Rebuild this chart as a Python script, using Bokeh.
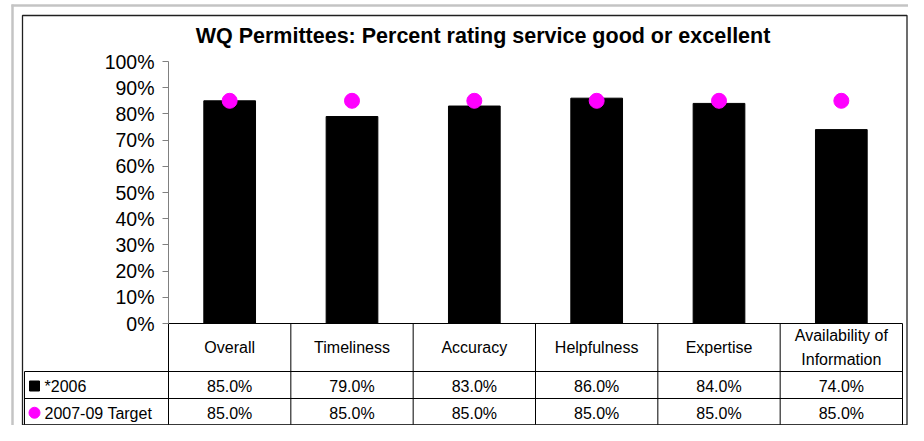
from bokeh.plotting import figure
from bokeh.models import Range1d, LinearAxis, FixedTicker
from bokeh.core.properties import value
from bokeh.embed import file_html
from bokeh.resources import INLINE

# ---------------- data ----------------
title_text = "WQ Permittees:  Percent rating service good or excellent"
categories = ["Overall", "Timeliness", "Accuracy", "Helpfulness", "Expertise",
              "Availability of\nInformation"]
series_names = ["*2006", "2007-09 Target"]
values_2006 = [85.0, 79.0, 83.0, 86.0, 84.0, 74.0]
values_target = [85.0, 85.0, 85.0, 85.0, 85.0, 85.0]
y_ticks = [0, 10, 20, 30, 40, 50, 60, 70, 80, 90, 100]
y_tick_labels = ["0%", "10%", "20%", "30%", "40%", "50%", "60%", "70%", "80%", "90%", "100%"]

# ---------------- layout (pixels) ----------------
W, H = 908, 425
X0 = 168.0            # left edge of first category
CW = 734.0 / 6        # category width
Y0 = 323.0            # 0% position
PY = 2.62             # px per percent
FONT = "Liberation Sans"


def dx(px):
    return (px - X0) / CW


def dy(py):
    return (Y0 - py) / PY


n = len(categories)
centers = [i + 0.5 for i in range(n)]

p = figure(width=W, height=H, output_backend="svg", toolbar_location=None, tools="",
           x_range=Range1d(dx(0), dx(W)), y_range=Range1d(dy(H), dy(0)),
           x_axis_type=None, y_axis_type=None,
           min_border_left=0, min_border_right=0, min_border_top=0, min_border_bottom=0)
p.outline_line_color = None
p.background_fill_color = "white"
p.border_fill_color = "white"

# outer gray frame
p.segment(x0=[dx(12)], y0=[dy(4)], x1=[dx(12)], y1=[dy(H)], line_color="#c4c4c4", line_width=2.5)
p.segment(x0=[dx(11)], y0=[dy(5)], x1=[dx(W)], y1=[dy(5)], line_color="#c4c4c4", line_width=2.5)

# bars
p.vbar(x=centers, top=values_2006, bottom=0, width=0.4226,
       fill_color="black", line_color="black", line_width=1)

# y axis
yaxis = LinearAxis(fixed_location=0, bounds=(0, 100), ticker=FixedTicker(ticks=y_ticks),
                   major_label_overrides={t: l for t, l in zip(y_ticks, y_tick_labels)})
yaxis.axis_line_color = "#808080"
yaxis.major_tick_line_color = "#808080"
yaxis.major_tick_out = 6
yaxis.major_tick_in = 0
yaxis.minor_tick_line_color = None
yaxis.major_label_text_font = FONT
yaxis.major_label_text_font_size = "19.5px"
yaxis.major_label_text_color = "black"
yaxis.major_label_standoff = 8
p.add_layout(yaxis, "left")

# data table grid
row_h = [371.0, 398.0, 424.5]
bottom = dy(row_h[-1])
p.segment(x0=list(range(n + 1)), y0=[0] * (n + 1), x1=list(range(n + 1)), y1=[bottom] * (n + 1),
          line_color="black", line_width=1)
p.segment(x0=[0], y0=[0], x1=[n], y1=[0], line_color="black", line_width=1)
p.segment(x0=[dx(24)] * 3, y0=[dy(v) for v in row_h], x1=[n] * 3, y1=[dy(v) for v in row_h],
          line_color="black", line_width=1)
p.segment(x0=[dx(24)], y0=[dy(row_h[0])], x1=[dx(24)], y1=[bottom], line_color="black", line_width=1)

# black chart border
p.quad(left=[dx(22)], right=[dx(906.5)], top=[dy(15)], bottom=[dy(424.5)],
       fill_color=None, line_color="#202020", line_width=1.3)

# target dots
p.scatter(x=centers, y=values_target, size=15, marker="circle",
          fill_color="#FF00FF", line_color="#FF00FF")

# header labels
p.text(x=centers, y=[dy(347)] * n, text=categories, text_align="center", text_baseline="middle",
       text_font=value(FONT), text_font_size="16px", text_line_height=1.4, text_color="black")

# table rows
r1 = (row_h[0] + row_h[1]) / 2 + 1.5
r2 = (row_h[1] + row_h[2]) / 2 + 1.5
p.text(x=centers, y=[dy(r1)] * n, text=[f"{v:.1f}%" for v in values_2006],
       text_align="center", text_baseline="middle",
       text_font=value(FONT), text_font_size="16px", text_color="black")
p.text(x=centers, y=[dy(r2)] * n, text=[f"{v:.1f}%" for v in values_target],
       text_align="center", text_baseline="middle",
       text_font=value(FONT), text_font_size="16px", text_color="black")

# row legend keys and labels
p.scatter(x=[dx(34)], y=[dy(r1 - 0.5)], marker="square", size=10,
          fill_color="black", line_color="black")
p.scatter(x=[dx(34)], y=[dy(r2 - 0.5)], marker="circle", size=11,
          fill_color="#FF00FF", line_color="#FF00FF")
p.text(x=[dx(44)] * 2, y=[dy(r1), dy(r2)], text=series_names, text_align="left",
       text_baseline="middle", text_font=value(FONT), text_font_size="16px", text_color="black")

# title
p.text(x=[dx(485.5)], y=[dy(35.5)], text=[title_text], text_align="center", text_baseline="middle",
       text_font=value(FONT), text_font_size="21.5px", text_font_style="bold", text_color="black")

open("out.html", "w").write(file_html(p, INLINE))
